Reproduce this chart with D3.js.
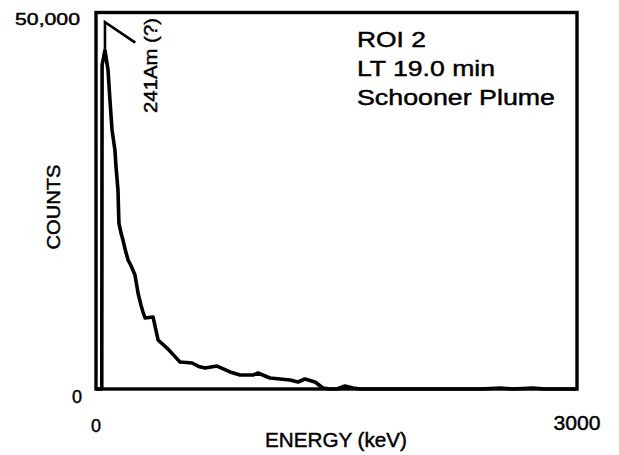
<!DOCTYPE html>
<html>
<head>
<meta charset="utf-8">
<script src="https://cdn.jsdelivr.net/npm/d3@7"></script>
<style>
  body { margin: 0; background: #fff; }
  svg text { font-family: 'Liberation Sans', Arial, sans-serif; fill: #000; stroke: #000; stroke-width: 0.45px; }
</style>
</head>
<body>
<svg width="619" height="455"></svg>
<script>
// spectrum (energy in keV, counts)
const energy = [0, 36, 38, 56, 75, 87, 100, 118, 125, 137, 143, 156, 168, 185, 200, 220, 243, 256, 262, 280, 293, 306, 356, 387, 443, 480, 524, 599, 640, 680, 755, 836, 898, 980, 1010, 1085, 1210, 1260, 1303, 1366, 1416, 1460, 1503, 1553, 1603, 1647, 2400, 2520, 2600, 2725, 2800, 3000]
const counts = [0, 0, 43000, 45000, 42360, 38380, 34400, 31740, 29480, 26430, 22040, 20710, 19780, 18300, 17130, 16300, 15140, 13550, 12750, 11200, 10230, 9430, 9560, 6510, 5440, 4600, 3590, 3450, 3000, 2790, 3050, 2260, 1860, 1860, 2120, 1460, 1200, 930, 1330, 930, 130, 0, 0, 400, 130, 0, 0, 130, 0, 130, 0, 0]
const xTicks = [0, 3000]
const yTicks = [0, 50000]
const infoLines = ['ROI 2', 'LT 19.0 min', 'Schooner Plume']
// annotation marker for the peak: [energy, counts]
const peakMark = [[56, 45200], [56, 48700], [245, 46000]]

const svg = d3.select('svg')
const plotLeft = 96, plotRight = 577, plotTop = 12.5, plotBottom = 389

const x = d3.scaleLinear().domain([0, 3000]).range([plotLeft, plotRight])
const y = d3.scaleLinear().domain([0, 50000]).range([plotBottom, plotTop])

// frame
svg.append('rect')
  .attr('x', plotLeft).attr('y', plotTop)
  .attr('width', plotRight - plotLeft).attr('height', plotBottom - plotTop)
  .attr('fill', 'none').attr('stroke', '#000').attr('stroke-width', 3.4)

const data = energy.map((e, i) => ({ e: e, c: counts[i] }))

svg.append('path')
  .datum(data)
  .attr('fill', 'none')
  .attr('stroke', '#000')
  .attr('stroke-width', 3.6)
  .attr('stroke-linejoin', 'round')
  .attr('d', d3.line().x(d => x(d.e)).y(d => y(d.c)))

svg.append('path')
  .datum(peakMark)
  .attr('fill', 'none')
  .attr('stroke', '#000')
  .attr('stroke-width', 2.6)
  .attr('d', d3.line().x(d => x(d[0])).y(d => y(d[1])))

// text helper, the scan is a bit wider than the font so stretch to measured width
function label (px, py, txt, size, len, anchor) {
  return svg.append('text')
    .attr('x', px).attr('y', py)
    .attr('font-size', size)
    .attr('text-anchor', anchor || 'start')
    .attr('textLength', len)
    .attr('lengthAdjust', 'spacingAndGlyphs')
    .text(txt)
}

// tick labels
label(x(xTicks[0]), 432, '0', 19, 10, 'middle')
label(x(xTicks[1]), 430, '3000', 20, 47, 'middle')
label(82, y(yTicks[0]) + 14, '0', 19, 10, 'end')
label(80, y(yTicks[1]) + 12.5, d3.format(',')(yTicks[1]), 17, 65, 'end')

// axis titles
label(336, 447, 'ENERGY (keV)', 20, 142, 'middle')
svg.append('text')
  .attr('transform', 'translate(60,207) rotate(-90)')
  .attr('font-size', 18)
  .attr('text-anchor', 'middle')
  .attr('textLength', 85)
  .attr('lengthAdjust', 'spacingAndGlyphs')
  .text('COUNTS')

// info block
const infoLen = [69, 138, 198]
infoLines.forEach((t, i) => label(357, 47 + i * 29, t, 22, infoLen[i]))

// peak label
svg.append('text')
  .attr('transform', 'translate(157,113) rotate(-90)')
  .attr('font-size', 18)
  .attr('textLength', 95)
  .attr('lengthAdjust', 'spacingAndGlyphs')
  .text('241Am (?)')
</script>
</body>
</html>
